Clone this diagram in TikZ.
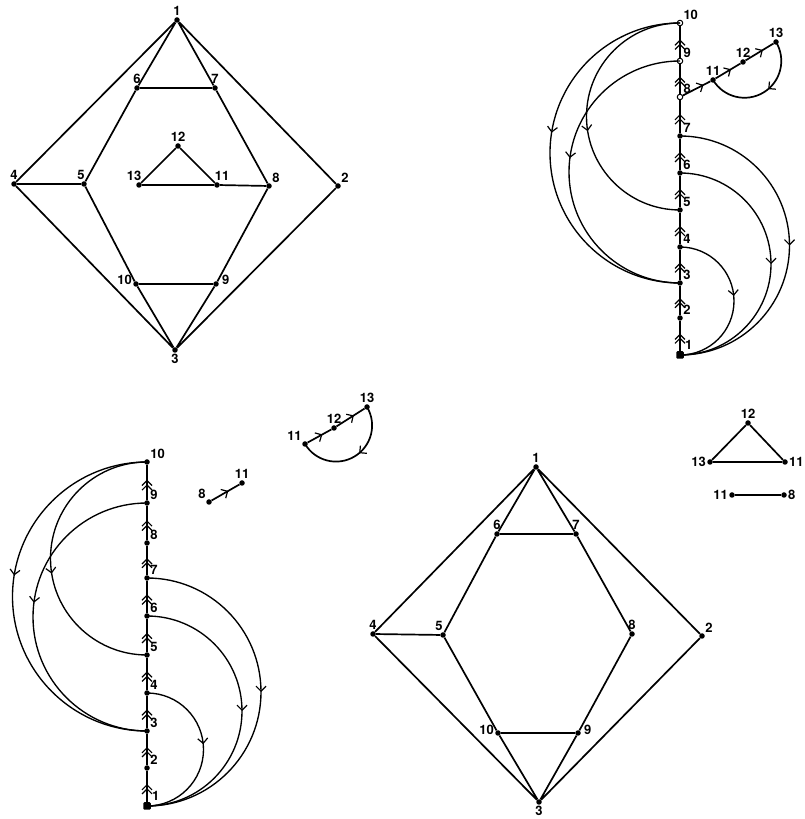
\documentclass[tikz,border=0pt]{standalone}
\usepackage{fontspec}
\setmainfont{TeX Gyre Heros}
\usetikzlibrary{arrows.meta,decorations.markings,calc}
\tikzset{
  dot/.style={circle,fill,inner sep=0pt,minimum size=5.5pt},
  odot/.style={circle,draw,fill=white,inner sep=0pt,minimum size=5.5pt,line width=1pt},
  bdot/.style={rectangle,rounded corners=1.2pt,fill,inner sep=0pt,minimum size=7.5pt},
  lbl/.style={font=\bfseries\fontsize{13}{13}\selectfont,inner sep=1pt},
  edge/.style={line width=1.7pt},
  arcline/.style={line width=1.35pt},
  chev/.tip={Straight Barb[length=5pt,width=10pt,line width=1.2pt]},
  am/.style={postaction={decorate},decoration={markings,mark=at position #1 with {\arrow{chev}}}},
  am/.default=0.5,
  dam/.style={postaction={decorate},decoration={markings,mark=at position 0.45 with {\arrow{chev}},mark=at position 0.58 with {\arrow{chev}}}},
}
\begin{document}
\begin{tikzpicture}[x=1pt,y=1pt]
\useasboundingbox (0,0) rectangle (805,819);

% ---------- top-left graph ----------
\node[dot,label={[lbl]above:1}] (a1) at (177,799) {};
\node[dot,label={[lbl]above:6}] (a6) at (137,731) {};
\node[dot,label={[lbl]above:7}] (a7) at (215,731) {};
\node[dot,label={[lbl]above:4}] (a4) at (14,635) {};
\node[dot,label={[lbl,xshift=-3pt]above:5}] (a5) at (84,635) {};
\node[dot,label={[lbl]above:12}] (a12) at (178,673) {};
\node[dot,label={[lbl,xshift=-5pt]above:13}] (a13) at (139,634) {};
\node[dot,label={[lbl,xshift=5pt]above:11}] (a11) at (217,634) {};
\node[dot,label={[lbl]above right:8}] (a8) at (269,633) {};
\node[dot,label={[lbl]above right:2}] (a2) at (338,633) {};
\node[dot,label={[lbl,yshift=4pt]left:10}] (a10) at (136,535) {};
\node[dot,label={[lbl,yshift=4pt,xshift=2pt]right:9}] (a9) at (216,535) {};
\node[dot,label={[lbl]below:3}] (a3) at (175,469) {};
\draw[edge] (a1)--(a4) (a1)--(a6) (a1)--(a7) (a1)--(a2) (a6)--(a7) (a6)--(a5)
  (a7)--(a8) (a4)--(a5) (a4)--(a3) (a5)--(a10) (a10)--(a3) (a8)--(a9) (a9)--(a3)
  (a2)--(a3) (a10)--(a9) (a13)--(a11) (a11)--(a8) (a13)--(a12) (a12)--(a11);

% ---------- top-right graph ----------
\node[bdot,label={[lbl]above right:1}] (b1) at (680,464) {};
\node[dot,label={[lbl]above right:2}] (b2) at (680,501) {};
\node[dot,label={[lbl]above right:3}] (b3) at (680,536) {};
\node[dot,label={[lbl]above right:4}] (b4) at (680,572) {};
\node[dot,label={[lbl]above right:5}] (b5) at (680,609) {};
\node[dot,label={[lbl]above right:6}] (b6) at (680,646) {};
\node[dot,label={[lbl]above right:7}] (b7) at (680,683) {};
\node[odot,label={[lbl]above right:8}] (b8) at (680,722) {};
\node[odot,label={[lbl]above right:9}] (b9) at (680,758) {};
\node[odot,label={[lbl]above right:10}] (b10) at (680,796) {};
\node[dot,label={[lbl]above:11}] (b11) at (713,739) {};
\node[dot,label={[lbl]above:12}] (b12) at (743,757) {};
\node[dot,label={[lbl]above:13}] (b13) at (776,777) {};
\foreach \i/\j in {1/2,2/3,3/4,4/5,5/6,6/7,7/8,8/9,9/10}
  \draw[edge,dam] (b\i)--(b\j);
\foreach \s/\t/\q in {4/1/0.47,6/1/0.5,7/1/0.5}
  \draw[arcline,am=\q] let \p1=(b\s),\p2=(b\t),\n1={(\y1-\y2)/2} in
    (b\s.center) arc[start angle=90,delta angle=-180,radius=\n1];
\foreach \s/\t/\q in {10/3/0.45,9/3/0.46,10/5/0.55}
  \draw[arcline,am=\q] let \p1=(b\s),\p2=(b\t),\n1={(\y1-\y2)/2} in
    (b\s.center) arc[start angle=90,delta angle=180,radius=\n1];
\draw[edge,am=0.75] (b8)--(b11);
\draw[edge,am=0.62] (b11)--(b12);
\draw[edge,am=0.62] (b12)--(b13);
\draw[edge,am=0.45] let \p1=(b13),\p2=(b11),\n1={veclen(\x1-\x2,\y1-\y2)/2},
    \n2={atan2(\y1-\y2,\x1-\x2)} in
    (b13.center) arc[start angle=\n2,delta angle=-180,radius=\n1];

% ---------- bottom-left graph ----------
\node[bdot,label={[lbl]above right:1}] (c1) at (147,13) {};
\node[dot,label={[lbl]above right:2}] (c2) at (147,51) {};
\node[dot,label={[lbl]above right:3}] (c3) at (147,88) {};
\node[dot,label={[lbl]above right:4}] (c4) at (147,126) {};
\node[dot,label={[lbl]above right:5}] (c5) at (147,164) {};
\node[dot,label={[lbl]above right:6}] (c6) at (147,203) {};
\node[dot,label={[lbl]above right:7}] (c7) at (147,241) {};
\node[dot,label={[lbl]above right:8}] (c8) at (147,276) {};
\node[dot,label={[lbl]above right:9}] (c9) at (147,316) {};
\node[dot,label={[lbl]above right:10}] (c10) at (147,357) {};
\foreach \i/\j in {1/2,2/3,3/4,4/5,5/6,6/7,7/8,8/9,9/10}
  \draw[edge,dam] (c\i)--(c\j);
\foreach \s/\t/\q in {4/1/0.47,6/1/0.5,7/1/0.5}
  \draw[arcline,am=\q] let \p1=(c\s),\p2=(c\t),\n1={(\y1-\y2)/2} in
    (c\s.center) arc[start angle=90,delta angle=-180,radius=\n1];
\foreach \s/\t/\q in {10/3/0.45,9/3/0.46,10/5/0.55}
  \draw[arcline,am=\q] let \p1=(c\s),\p2=(c\t),\n1={(\y1-\y2)/2} in
    (c\s.center) arc[start angle=90,delta angle=180,radius=\n1];
\node[dot,label={[lbl]above left:8}] (c8x) at (209,317) {};
\node[dot,label={[lbl]above:11}] (c11x) at (242,336) {};
\draw[edge,am=0.6] (c8x)--(c11x);
\node[dot,label={[lbl]above left:11}] (d11) at (305,375) {};
\node[dot,label={[lbl]above:12}] (d12) at (334,391) {};
\node[dot,label={[lbl]above:13}] (d13) at (367,412) {};
\draw[edge,am=0.62] (d11)--(d12);
\draw[edge,am=0.62] (d12)--(d13);
\draw[edge,am=0.45] let \p1=(d13),\p2=(d11),\n1={veclen(\x1-\x2,\y1-\y2)/2},
    \n2={atan2(\y1-\y2,\x1-\x2)} in
    (d13.center) arc[start angle=\n2,delta angle=-180,radius=\n1];

% ---------- bottom-right graph ----------
\node[dot,label={[lbl]above:1}] (e1) at (536,352) {};
\node[dot,label={[lbl]above:6}] (e6) at (497,285) {};
\node[dot,label={[lbl]above:7}] (e7) at (576,285) {};
\node[dot,label={[lbl]above:4}] (e4) at (373,185) {};
\node[dot,label={[lbl,xshift=-4pt]above:5}] (e5) at (443,184) {};
\node[dot,label={[lbl]above:8}] (e8) at (632,185) {};
\node[dot,label={[lbl]above right:2}] (e2) at (702,183) {};
\node[dot,label={[lbl,yshift=3pt]left:10}] (e10) at (498,86) {};
\node[dot,label={[lbl,yshift=3pt,xshift=2pt]right:9}] (e9) at (578,86) {};
\node[dot,label={[lbl]below:3}] (e3) at (539,17) {};
\draw[edge] (e1)--(e4) (e1)--(e6) (e1)--(e7) (e1)--(e2) (e6)--(e7) (e6)--(e5)
  (e7)--(e8) (e4)--(e5) (e4)--(e3) (e5)--(e10) (e10)--(e3) (e8)--(e9) (e9)--(e3)
  (e2)--(e3) (e10)--(e9);

% ---------- triangle and edge ----------
\node[dot,label={[lbl]above:12}] (f12) at (748,396) {};
\node[dot,label={[lbl]left:13}] (f13) at (710,357) {};
\node[dot,label={[lbl]right:11}] (f11) at (785,357) {};
\draw[edge] (f13)--(f11) (f13)--(f12) (f12)--(f11);
\node[dot,label={[lbl]left:11}] (g11) at (732,324) {};
\node[dot,label={[lbl]right:8}] (g8) at (784,324) {};
\draw[edge] (g11)--(g8);
\end{tikzpicture}
\end{document}
